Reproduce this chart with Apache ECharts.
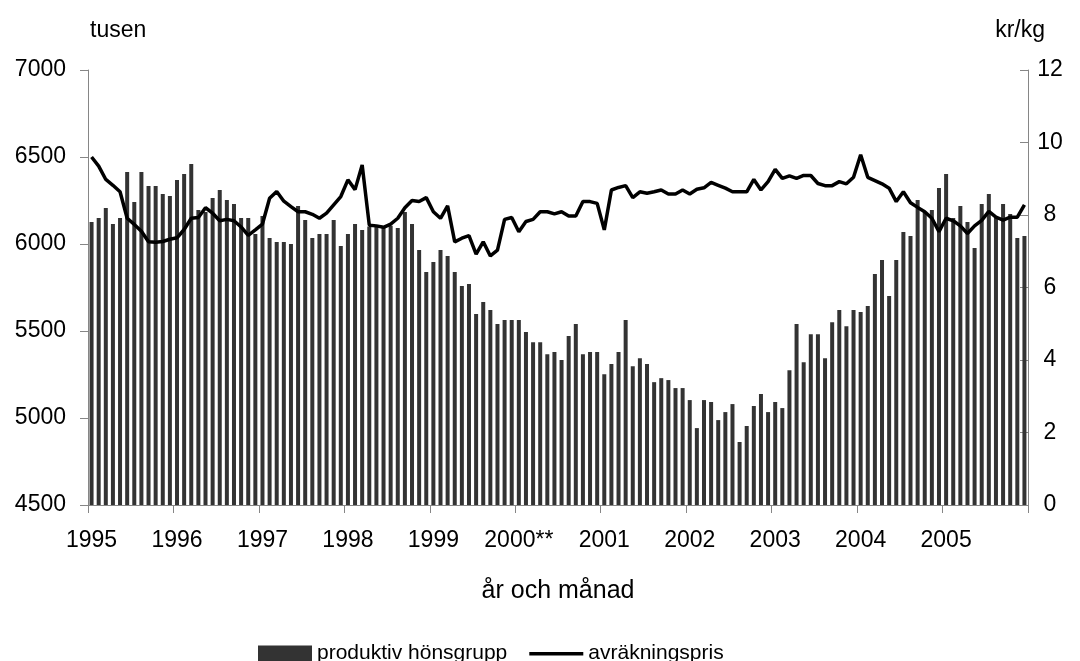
<!DOCTYPE html>
<html>
<head>
<meta charset="utf-8">
<script src="https://cdn.jsdelivr.net/npm/echarts@6/dist/echarts.min.js"></script>
<style>
  html, body { margin: 0; padding: 0; background: #ffffff; }
  #chart { width: 1080px; height: 661px; }
</style>
</head>
<body>
<div id="chart"></div>
<script>
// Years on the category axis; each year holds twelve monthly categories.
const years = ['1995', '1996', '1997', '1998', '1999', '2000', '2001', '2002', '2003', '2004', '2005'];
// Tick label shown at the first month of each year.
const yearLabels = ['1995', '1996', '1997', '1998', '1999', '2000**', '2001', '2002', '2003', '2004', '2005'];

// Productive laying-hen flock, thousands, one value per month.
const henFlock = [
  6126, 6149, 6207, 6115, 6149, 6414, 6241, 6414, 6333, 6333, 6287, 6276, // 1995
  6368, 6402, 6460, 6195, 6184, 6264, 6310, 6253, 6230, 6149, 6149, 6057, // 1996
  6161, 6034, 6011, 6011, 6000, 6218, 6138, 6034, 6057, 6057, 6138, 5988, // 1997
  6057, 6115, 6080, 6100, 6100, 6095, 6105, 6092, 6184, 6115, 5965, 5839, // 1998
  5896, 5965, 5931, 5839, 5758, 5770, 5597, 5666, 5620, 5540, 5563, 5563, // 1999
  5563, 5494, 5436, 5436, 5367, 5379, 5333, 5471, 5540, 5367, 5379, 5379, // 2000
  5252, 5310, 5379, 5563, 5298, 5344, 5310, 5206, 5229, 5218, 5172, 5172, // 2001
  5103, 4942, 5103, 5092, 4988, 5034, 5080, 4862, 4954, 5069, 5138, 5034, // 2002
  5092, 5057, 5275, 5540, 5321, 5482, 5482, 5344, 5551, 5620, 5528, 5620, // 2003
  5609, 5643, 5827, 5908, 5701, 5908, 6069, 6046, 6253, 6184, 6195, 6322, // 2004
  6402, 6149, 6218, 6126, 5977, 6230, 6287, 6149, 6230, 6172, 6034, 6046  // 2005
];

// Settlement price paid to producers, kr/kg, one value per month.
const price = [
  9.60, 9.35, 8.98, 8.82, 8.64, 7.91, 7.74, 7.55, 7.26, 7.25, 7.27, 7.33, // 1995
  7.37, 7.60, 7.91, 7.93, 8.20, 8.05, 7.84, 7.88, 7.84, 7.67, 7.44, 7.59, // 1996
  7.75, 8.46, 8.65, 8.38, 8.23, 8.09, 8.09, 8.02, 7.91, 8.05, 8.28, 8.51, // 1997
  8.97, 8.70, 9.38, 7.72, 7.70, 7.66, 7.75, 7.91, 8.20, 8.40, 8.37, 8.48, // 1998
  8.09, 7.91, 8.25, 7.26, 7.36, 7.43, 6.92, 7.26, 6.87, 7.03, 7.88, 7.93, // 1999
  7.54, 7.82, 7.88, 8.09, 8.09, 8.03, 8.09, 7.97, 7.97, 8.37, 8.37, 8.32, // 2000
  7.59, 8.69, 8.76, 8.81, 8.48, 8.64, 8.60, 8.64, 8.69, 8.58, 8.58, 8.69, // 2001
  8.58, 8.71, 8.75, 8.90, 8.82, 8.74, 8.64, 8.64, 8.64, 8.98, 8.69, 8.92, // 2002
  9.26, 9.01, 9.08, 9.01, 9.09, 9.09, 8.87, 8.81, 8.81, 8.92, 8.86, 9.04, // 2003
  9.66, 9.04, 8.95, 8.86, 8.74, 8.37, 8.64, 8.34, 8.21, 8.09, 7.91, 7.54, // 2004
  7.91, 7.84, 7.70, 7.49, 7.70, 7.85, 8.10, 7.94, 7.86, 7.94, 7.94, 8.28  // 2005
];

// Monthly categories: "1995-01" ... "2005-12".
const months = [];
years.forEach(function (y) {
  for (let m = 1; m <= 12; m++) months.push(y + '-' + (m < 10 ? '0' + m : m));
});

const FONT = 'Liberation Sans, Arial, sans-serif';
const FS = 23;
const AXIS_GRAY = '#868686';
// Legend key for the price line: a thin bar centred in the icon box
// (the two tiny corner marks keep the box full height so it is not stretched).
const LINE_KEY = 'path://M0,6.5h54v3.5h-54z M0,0h0.01v0.01h-0.01z M0,16h0.01v0.01h-0.01z';

const chart = echarts.init(document.getElementById('chart'), null, { renderer: 'canvas' });

chart.setOption({
  animation: false,
  backgroundColor: '#ffffff',
  textStyle: { fontFamily: FONT, color: '#000000' },
  grid: { left: 88, right: 52, top: 70, bottom: 156, containLabel: false },
  graphic: [
    { type: 'text', left: 90, top: 19, style: { text: 'tusen', font: FS + 'px ' + FONT, fill: '#000' } },
    { type: 'text', right: 35, top: 19, style: { text: 'kr/kg', font: FS + 'px ' + FONT, fill: '#000' } }
  ],
  legend: {
    left: 253,
    top: 638,
    itemWidth: 54,
    itemHeight: 16,
    itemGap: 22,
    symbolKeepAspect: false,
    textStyle: { fontSize: 21, fontFamily: FONT, color: '#000' },
    data: [
      { name: 'produktiv hönsgrupp', icon: 'rect' },
      { name: 'avräkningspris', icon: LINE_KEY }
    ]
  },
  xAxis: {
    type: 'category',
    data: months,
    boundaryGap: true,
    name: 'år och månad',
    nameLocation: 'middle',
    nameGap: 74,
    nameTextStyle: { fontSize: 25, fontFamily: FONT, color: '#000' },
    axisLine: { show: true, lineStyle: { color: AXIS_GRAY, width: 1 } },
    axisTick: { show: true, interval: 11, length: 8, lineStyle: { color: AXIS_GRAY } },
    axisLabel: {
      interval: 11,
      margin: 24,
      fontSize: FS,
      fontFamily: FONT,
      color: '#000',
      formatter: function (value, index) { return yearLabels[Math.floor(index / 12)]; }
    },
    splitLine: { show: false }
  },
  yAxis: [
    {
      type: 'value',
      min: 4500,
      max: 7000,
      interval: 500,
      position: 'left',
      axisLine: { show: true, lineStyle: { color: AXIS_GRAY, width: 1 } },
      axisTick: { show: true, inside: false, length: 8, lineStyle: { color: AXIS_GRAY } },
      axisLabel: {
        margin: 22, fontSize: FS, fontFamily: FONT, color: '#000',
        formatter: function (v) { return String(v); }
      },
      splitLine: { show: false }
    },
    {
      type: 'value',
      min: 0,
      max: 12,
      interval: 2,
      position: 'right',
      axisLine: { show: true, lineStyle: { color: AXIS_GRAY, width: 1 } },
      axisTick: { show: true, inside: true, length: 8, lineStyle: { color: AXIS_GRAY } },
      axisLabel: {
        margin: 22, align: 'center', fontSize: FS, fontFamily: FONT, color: '#000',
        formatter: function (v) { return String(v); }
      },
      splitLine: { show: false }
    }
  ],
  series: [
    {
      name: 'produktiv hönsgrupp',
      type: 'bar',
      yAxisIndex: 0,
      data: henFlock,
      barWidth: 4,
      itemStyle: { color: '#333333' }
    },
    {
      name: 'avräkningspris',
      type: 'line',
      yAxisIndex: 1,
      data: price,
      symbol: 'none',
      lineStyle: { color: '#000000', width: 3.5 },
      itemStyle: { color: '#000000' }
    }
  ]
});
</script>
</body>
</html>
